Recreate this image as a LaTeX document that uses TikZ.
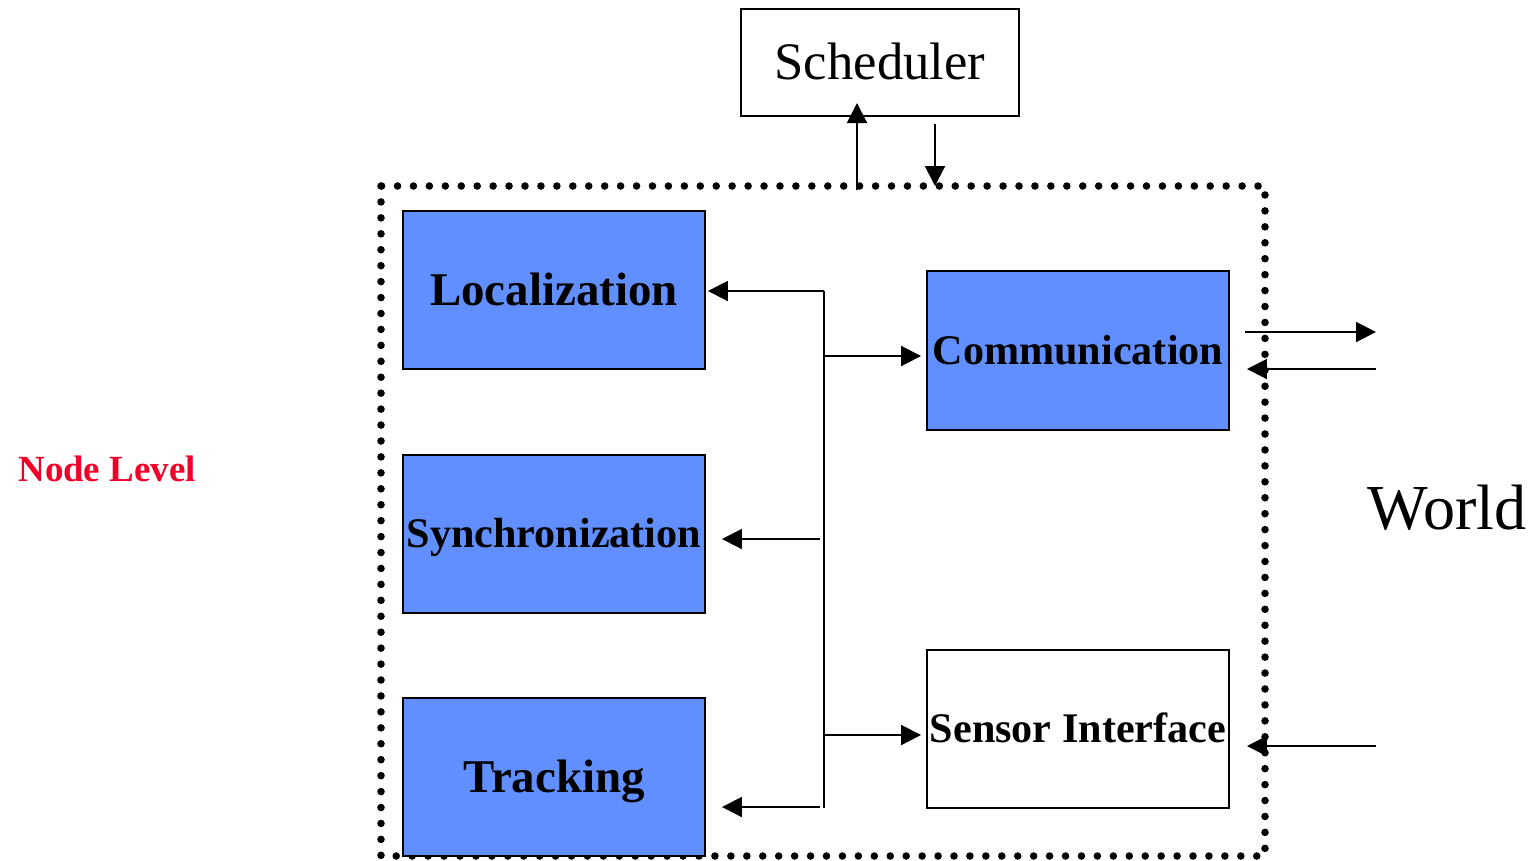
\documentclass[tikz,border=0pt]{standalone}
\usepackage{fontspec}
\setmainfont{Liberation Serif}
\usetikzlibrary{arrows.meta}
\definecolor{modblue}{RGB}{97,143,255}
\definecolor{lvlred}{RGB}{240,0,40}
\tikzset{
  px/.style={x=0.02cm,y=-0.02cm},
  module/.style={draw=black,line width=0.04cm,fill=modblue,inner sep=0pt,outer sep=0pt,
    minimum width=6.04cm,minimum height=3.16cm,text height=17.7pt,text depth=0pt,
    font=\fontsize{26.7pt}{30pt}\selectfont\bfseries},
  smallmod/.style={module,text height=15.9pt,font=\fontsize{24pt}{28pt}\selectfont\bfseries},
  link/.style={line width=0.04cm,-{Triangle[length=0.4cm,width=0.4cm]}},
  plain/.style={line width=0.04cm},
  boundary/.style={line width=4.3pt,line cap=round,dash pattern=on 0pt off 9.07pt},
}
\begin{document}
\begin{tikzpicture}[px]
\useasboundingbox (0,0) rectangle (1534,860);

% node boundary
\draw[boundary] (381,186) rectangle (1265,856);

% scheduler
\node[draw,line width=0.04cm,inner sep=0pt,minimum width=5.56cm,minimum height=2.14cm,
  text height=19.9pt,text depth=0pt,font=\fontsize{30pt}{34pt}\selectfont] (sched) at (880,62.5) {Scheduler};

% modules
\node[module] (loc) at (554,290) {Localization};
\node[smallmod] (sync) at (554,534) {Synchronization};
\node[module] (track) at (554,777) {Tracking};
\node[smallmod,minimum height=3.18cm] (comm) at (1078,350.5) {Communication};
\node[smallmod,fill=white] (sens) at (1078,729) {Sensor Interface};

% labels
\node[text=lvlred,font=\fontsize{21pt}{24pt}\selectfont\bfseries,text height=13.9pt,text depth=0pt] (lvl) at (107,469) {Node Level};
\node[font=\fontsize{36.5pt}{40pt}\selectfont,text height=24.2pt,text depth=0pt] (world) at (1447,508) {World};

% scheduler links
\coordinate (upS) at (857,190);
\coordinate (upE) at (857,103);
\coordinate (dnS) at (935,124);
\coordinate (dnE) at (935,186);
\draw[link] (upS) -- (upE);
\draw[link] (dnS) -- (dnE);

% internal bus
\coordinate (busT) at (824,291);
\coordinate (busB) at (824,808);
\draw[plain] (busT) -- (busB);
\draw[link] (busT) -- ([xshift=0.06cm]busT -| loc.east);
\coordinate (bComm) at (824,356);
\draw[link] (bComm) -- ([xshift=-0.12cm]bComm -| comm.west);
\coordinate (bSync) at (820,539);
\draw[link] (bSync) -- ([xshift=0.34cm]bSync -| sync.east);
\coordinate (bSens) at (824,735);
\draw[link] (bSens) -- ([xshift=-0.12cm]bSens -| sens.west);
\coordinate (bTrack) at (820,807);
\draw[link] (bTrack) -- ([xshift=0.34cm]bTrack -| track.east);

% world links
\coordinate (wOut) at (1376,332);
\coordinate (wIn) at (1376,369);
\coordinate (wSens) at (1376,746);
\draw[link] ([xshift=0.32cm]wOut -| comm.east) -- (wOut);
\draw[link] (wIn) -- ([xshift=0.36cm]wIn -| comm.east);
\draw[link] (wSens) -- ([xshift=0.36cm]wSens -| sens.east);
\end{tikzpicture}
\end{document}
